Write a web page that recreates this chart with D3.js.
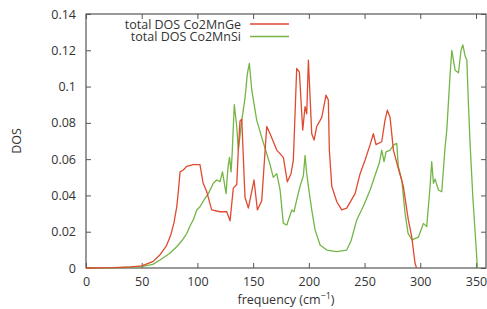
<!DOCTYPE html>
<html>
  <head>
    <meta charset="utf-8">
    <title>DOS</title>
    <script src="https://d3js.org/d3.v7.min.js"></script>
    <style>
      body { margin: 0; background: #fff; }
      text { font-family: "Open Sans", sans-serif; fill: #333; }
      .series { fill: none; stroke-width: 1.3px; stroke-linejoin: round; }
    </style>
  </head>
  <body>
    <script>

      // frequency (cm^-1) and DOS
      var geFreq = [0, 25, 40, 50, 60, 66, 72, 76, 79, 81.5, 83, 84.4, 87.3, 90.4, 96.1, 102.3, 105, 108.4,
        112.8, 120.3, 126.3, 129.3, 132.2, 135.3, 136.7, 138.2, 139.8, 142.7, 145.7, 150.8, 153.8, 157.7,
        162.2, 165.2, 171.2, 177.1, 180.7, 184, 186.1, 189.1, 191.5, 194.5, 196.6, 198.1, 199.6, 202.6,
        204.7, 207.1, 211.6, 215.4, 217.5, 218.4, 220.6, 225.1, 229.5, 234, 241.5, 246, 250.5, 255,
        257.9, 260.3, 265.4, 268.4, 270.5, 272.9, 275.9, 280.3, 284.8, 289.3, 292.4, 295.3, 296.7];
      var geDos = [0, 0.0002, 0.0006, 0.0012, 0.0035, 0.007, 0.012, 0.018, 0.025, 0.034, 0.043, 0.053, 0.054,
        0.056, 0.057, 0.057, 0.047, 0.042, 0.032, 0.031, 0.031, 0.026, 0.044, 0.046, 0.065, 0.081, 0.082,
        0.039, 0.033, 0.0485, 0.032, 0.037, 0.078, 0.074, 0.065, 0.061, 0.0475, 0.052, 0.0595, 0.110, 0.108,
        0.076, 0.089, 0.085, 0.1146, 0.074, 0.0705, 0.078, 0.083, 0.0953, 0.0926, 0.065, 0.045, 0.0365,
        0.032, 0.033, 0.041, 0.052, 0.0595, 0.068, 0.074, 0.068, 0.0696, 0.0816, 0.087, 0.083, 0.065,
        0.055, 0.045, 0.0265, 0.017, 0.0026, 0];

      var siFreq = [0, 30, 50, 60, 66.4, 75, 81.4, 86, 90.4, 94, 96.3, 99.4, 102.3, 105.9, 109.8, 114.3,
        117.3, 120.3, 122.5, 125.7, 127.5, 128.8, 130.2, 131.1, 133.1, 135.3, 136.7, 139.8, 142.7, 144.8,
        146.6, 148.8, 153.2, 157.7, 162.2, 165.2, 168.1, 171.2, 174.2, 177.1, 180.2, 184.7, 186.7, 189.1,
        192.1, 195.1, 196.6, 198.1, 199.6, 202.6, 205.6, 210.1, 216.1, 225.1, 234, 237.9, 243, 248.9, 255,
        259.4, 263.3, 265.4, 267.5, 269.3, 272.9, 276.5, 278.9, 280.3, 283.4, 286.4, 289.1, 292.7, 298.3,
        302.8, 305.8, 308.8, 310.3, 311.8, 313.3, 316.3, 319.3, 322.3, 323.8, 326.8, 328.3, 331.3, 334.3,
        336.6, 338.2, 340.2, 341.8, 343.2, 344.7, 347.2, 350.1, 351.3];
      var siDos = [0, 0.0002, 0.0008, 0.002, 0.0044, 0.008, 0.0117, 0.015, 0.019, 0.024, 0.0265, 0.032,
        0.0338, 0.0375, 0.041, 0.0467, 0.0485, 0.0476, 0.053, 0.041, 0.056, 0.061, 0.053, 0.062, 0.090,
        0.078, 0.065, 0.0815, 0.0935, 0.107, 0.1128, 0.098, 0.0815, 0.072, 0.063, 0.057, 0.050, 0.052,
        0.043, 0.0246, 0.0237, 0.032, 0.031, 0.0375, 0.045, 0.051, 0.062, 0.052, 0.045, 0.032, 0.021,
        0.0127, 0.0099, 0.009, 0.0099, 0.015, 0.0265, 0.034, 0.043, 0.051, 0.058, 0.065, 0.0586, 0.064,
        0.065, 0.068, 0.0687, 0.056, 0.0485, 0.03, 0.019, 0.0155, 0.017, 0.0246, 0.0228, 0.045, 0.0586,
        0.0467, 0.049, 0.043, 0.042, 0.067, 0.076, 0.107, 0.120, 0.109, 0.1076, 0.120, 0.123, 0.117,
        0.1146, 0.091, 0.0687, 0.039, 0.0117, 0];

      var xTicks = [0, 50, 100, 150, 200, 250, 300, 350];
      var yTicks = [0, 0.02, 0.04, 0.06, 0.08, 0.1, 0.12, 0.14];
      var seriesNames = ["total DOS Co2MnGe", "total DOS Co2MnSi"];
      var seriesColors = ["#df4a30", "#74b545"];

      var width = 487, height = 309;
      var plotL = 86, plotR = 486, plotT = 14, plotB = 268;

      var svg = d3.select("body").append("svg")
        .attr("width", width)
        .attr("height", height);

      var xScale = d3.scaleLinear().domain([0, 359]).range([plotL, plotR]);
      var yScale = d3.scaleLinear().domain([0, 0.14]).range([plotB, plotT]);

      var frameColor = "#555";

      // ticks pointing inward on all four sides
      var axes = [
        d3.axisBottom(xScale).tickValues(xTicks).tickSizeInner(-5).tickSizeOuter(0).tickPadding(9),
        d3.axisTop(xScale).tickValues(xTicks).tickSizeInner(-5).tickSizeOuter(0).tickFormat(""),
        d3.axisLeft(yScale).tickValues(yTicks).tickSizeInner(-5).tickSizeOuter(0).tickPadding(10)
          .tickFormat(function (d){ return String(+d.toFixed(2)); }),
        d3.axisRight(yScale).tickValues(yTicks).tickSizeInner(-5).tickSizeOuter(0).tickFormat("")
      ];
      var shifts = ["translate(0," + plotB + ")", "translate(0," + plotT + ")",
        "translate(" + plotL + ",0)", "translate(" + plotR + ",0)"];

      axes.forEach(function (ax, i){
        var g = svg.append("g").attr("transform", shifts[i]).call(ax);
        g.select(".domain").remove();
        g.selectAll("line").attr("stroke", frameColor);
        g.selectAll("text").style("font-size", "12.5px").attr("fill", "#333");
      });

      svg.append("rect")
        .attr("x", plotL).attr("y", plotT)
        .attr("width", plotR - plotL).attr("height", plotB - plotT)
        .attr("fill", "none").attr("stroke", frameColor).attr("stroke-width", 1.2);

      var line = d3.line()
        .x(function (d){ return xScale(d[0]); })
        .y(function (d){ return yScale(d[1]); });

      var siData = d3.zip(siFreq, siDos);
      var geData = d3.zip(geFreq, geDos);

      svg.append("path").datum(siData).attr("class", "series")
        .attr("stroke", seriesColors[1]).attr("d", line);
      svg.append("path").datum(geData).attr("class", "series")
        .attr("stroke", seriesColors[0]).attr("d", line);

      // legend
      seriesNames.forEach(function (name, i){
        var y = 24 + i * 12.5;
        svg.append("text")
          .attr("x", 241).attr("y", y + 4.5)
          .attr("text-anchor", "end")
          .style("font-size", "12.5px")
          .text(name);
        svg.append("line")
          .attr("x1", 250).attr("x2", 289)
          .attr("y1", y).attr("y2", y)
          .attr("stroke", seriesColors[i]).attr("stroke-width", 1.3);
      });

      svg.append("text")
        .attr("transform", "translate(21,141) rotate(-90)")
        .attr("text-anchor", "middle")
        .style("font-size", "12.5px")
        .text("DOS");

      var xl = svg.append("text")
        .attr("x", 286).attr("y", 304)
        .attr("text-anchor", "middle")
        .style("font-size", "12.5px");
      xl.append("tspan").text("frequency (cm");
      xl.append("tspan").attr("dy", -5).style("font-size", "9px").text("\u22121");
      xl.append("tspan").attr("dy", 5).text(")");

    </script>
  </body>
</html>
